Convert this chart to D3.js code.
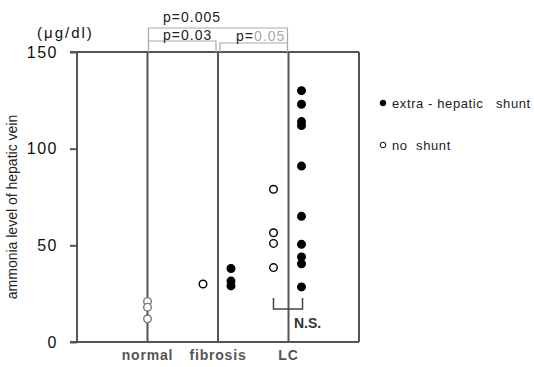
<!DOCTYPE html>
<html>
<head>
<meta charset="utf-8">
<script src="https://cdn.jsdelivr.net/npm/d3@7"></script>
<style>
  body { margin: 0; background: #fff; }
  svg { display: block; font-family: "Liberation Sans", Arial, sans-serif; }
</style>
</head>
<body>
<div id="root"></div>
<script>
// data
const categories = ["normal", "fibrosis", "LC"];
const normalValues = [21, 18, 12];
const fibrosisNoShunt = [30];
const fibrosisShunt = [38, 31.5, 29];
const lcNoShunt = [79, 56.5, 51, 38.5];
const lcShunt = [130, 123, 114, 112, 91, 65, 50.5, 44, 40.5, 28.5];
const yTicks = [0, 50, 100, 150];

const width = 534, height = 367;

const svg = d3.select("#root")
    .append("svg")
    .attr("width", width)
    .attr("height", height);

const x = d3.scalePoint()
    .domain(categories)
    .range([77, 359])
    .padding(1);

const y = d3.scaleLinear()
    .domain([0, 150])
    .range([342, 52]);

const lineColor = "#555";

// frame + column lines
svg.append("line")
    .attr("x1", 70).attr("x2", 359)
    .attr("y1", y(150)).attr("y2", y(150))
    .attr("stroke", lineColor).attr("stroke-width", 2);

svg.append("line")
    .attr("x1", 70).attr("x2", 359)
    .attr("y1", y(0)).attr("y2", y(0))
    .attr("stroke", lineColor).attr("stroke-width", 2);

const colX = [x.range()[0]].concat(categories.map(c => x(c))).concat([x.range()[1]]);
svg.append("g")
    .selectAll("line")
    .data(colX)
    .enter().append("line")
    .attr("x1", d => d).attr("x2", d => d)
    .attr("y1", y(150)).attr("y2", y(0))
    .attr("stroke", lineColor)
    .attr("stroke-width", 2);

// y axis
const yAxis = svg.append("g")
    .attr("transform", `translate(77,0)`)
    .call(d3.axisLeft(y).tickValues(yTicks).tickSize(7).tickPadding(12));
yAxis.select(".domain").remove();
yAxis.selectAll(".tick line").attr("stroke", lineColor).attr("stroke-width", 2);
yAxis.selectAll(".tick text")
    .attr("fill", "#111")
    .style("font-size", "16px")
    .style("letter-spacing", "1.5px");

svg.append("text")
    .attr("x", 37).attr("y", 38)
    .style("font-size", "15px")
    .style("letter-spacing", "2px")
    .attr("fill", "#111")
    .text("(μg/dl)");

svg.append("text")
    .attr("transform", "translate(17,207) rotate(-90)")
    .attr("text-anchor", "middle")
    .style("font-size", "14px")
    .attr("fill", "#222")
    .text("ammonia level of hepatic vein");

// category labels
svg.append("g")
    .selectAll("text")
    .data(categories)
    .enter().append("text")
    .attr("x", d => x(d))
    .attr("y", 360)
    .attr("text-anchor", "middle")
    .style("font-size", "14px")
    .style("font-weight", "bold")
    .style("letter-spacing", "0.8px")
    .attr("fill", "#555")
    .text(d => d);

// points
const r = 3.8;
function dots(values, cat, dx, filled, stroke) {
    svg.append("g")
        .selectAll("circle")
        .data(values)
        .enter().append("circle")
        .attr("cx", x(cat) + dx)
        .attr("cy", d => y(d))
        .attr("r", r)
        .attr("fill", filled ? "#000" : "#fff")
        .attr("stroke", stroke || "#000")
        .attr("stroke-width", 1.4);
}
dots(normalValues, "normal", 0, false, "#777");
dots(fibrosisNoShunt, "fibrosis", -15, false);
dots(fibrosisShunt, "fibrosis", 13, true);
dots(lcNoShunt, "LC", -15, false);
dots(lcShunt, "LC", 13, true);

// N.S. bracket
const nsL = x("LC") - 15, nsR = x("LC") + 14;
svg.append("path")
    .attr("d", `M${nsL},298 V309 H${nsR} V298`)
    .attr("fill", "none")
    .attr("stroke", "#444")
    .attr("stroke-width", 1.5);
svg.append("text")
    .attr("x", 294).attr("y", 328)
    .style("font-size", "14px")
    .style("font-weight", "bold")
    .attr("fill", "#333")
    .text("N.S.");

// significance brackets
const bracketColor = "#aaa";
function bracket(x1, x2, top) {
    svg.append("path")
        .attr("d", `M${x1},${y(150)} V${top} H${x2} V${y(150)}`)
        .attr("fill", "none")
        .attr("stroke", bracketColor)
        .attr("stroke-width", 1.2);
}
bracket(x("normal") + 1, x("LC") - 1, 28);
bracket(x("normal") + 1, x("fibrosis") - 2, 41);
bracket(x("fibrosis") + 2, x("LC") - 1, 43);

const pText = svg.append("g")
    .style("font-size", "14px")
    .style("letter-spacing", "1px")
    .attr("fill", "#222");
pText.append("text").attr("x", 163).attr("y", 22).text("p=0.005");
pText.append("text").attr("x", 163).attr("y", 40).text("p=0.03");
const p05 = pText.append("text").attr("x", 236).attr("y", 41);
p05.append("tspan").text("p=");
p05.append("tspan").attr("fill", "#aaa").text("0.05");

// legend
const legendItems = [
    { label: "extra - hepatic   shunt", filled: true, cy: 103 },
    { label: "no  shunt", filled: false, cy: 145 }
];
const legend = svg.append("g")
    .selectAll("g")
    .data(legendItems)
    .enter().append("g")
    .attr("transform", d => `translate(383,${d.cy})`);
legend.append("circle")
    .attr("r", 2.8)
    .attr("fill", d => d.filled ? "#000" : "#fff")
    .attr("stroke", "#000")
    .attr("stroke-width", 1);
legend.append("text")
    .attr("x", 9)
    .attr("dy", "0.35em")
    .style("font-size", "13px")
    .style("letter-spacing", "0.6px")
    .style("white-space", "pre")
    .attr("fill", "#222")
    .text(d => d.label);
</script>
</body>
</html>
